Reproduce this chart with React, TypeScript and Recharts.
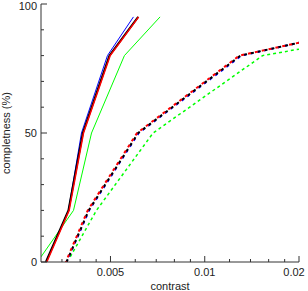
import React from "react";
import { LineChart, Line, XAxis, YAxis } from "recharts";

// completeness vs contrast, IDL-style box plot with inward ticks
const FONT = "'Liberation Sans', Arial, Helvetica, sans-serif";
const AXIS_COLOR = "#333";

const X_DOMAIN = [0.003, 0.02];
const Y_DOMAIN = [0, 100];

const X_MAJOR = [0.005, 0.01, 0.02];
const X_MAJOR_LABELS = ["0.005", "0.01", "0.02"];
const X_MINOR = [0.0035, 0.004, 0.0045, 0.006, 0.007, 0.008, 0.009, 0.012, 0.014, 0.016, 0.018];
const Y_MAJOR = [0, 50, 100];
const Y_MAJOR_LABELS = ["0", "50", "100"];
const Y_MINOR = [10, 20, 30, 40, 60, 70, 80, 90];

// solid curves
const SOLID_Y = [0, 20, 50, 80, 95];
const blueSolidX = [0.00311, 0.00367, 0.00404, 0.00489, 0.00592];
const blackSolidX = [0.00311, 0.00367, 0.00408, 0.00496, 0.00613];
const redSolidX = [0.00313, 0.00369, 0.0041, 0.00499, 0.00615];
const greenSolidX = [0.003, 0.00381, 0.00435, 0.00554, 0.0072];
const greenSolidY = [2, 20, 50, 80, 95];

// dashed curves
const DASHED_Y = [0, 20, 50, 80, 85];
const blueDashedX = [0.00362, 0.00427, 0.00615, 0.0131, 0.02];
const blackDashedX = [0.00362, 0.00426, 0.00613, 0.013, 0.02];
const redDashedX = [0.0036, 0.00423, 0.00608, 0.0129, 0.02];
const greenDashedX = [0.00372, 0.00451, 0.00684, 0.0153, 0.02];
const greenDashedY = [2, 20, 50, 80, 82.5];

const pts = (xs: number[], ys: number[]) => xs.map((x, i) => ({ x, y: ys[i] }));

const xTicks = [...X_MINOR, ...X_MAJOR].sort((a, b) => a - b);
const yTicks = [...Y_MINOR, ...Y_MAJOR].sort((a, b) => a - b);

function XTick(props: any) {
  const { x, y, payload, side } = props;
  const mi = X_MAJOR.indexOf(payload.value);
  const len = mi >= 0 ? 6 : 3;
  const dir = side === "bottom" ? -1 : 1;
  const last = mi === X_MAJOR.length - 1;
  return (
    <g>
      <line x1={x} y1={y} x2={x} y2={y + dir * len} stroke={AXIS_COLOR} strokeWidth={1} />
      {side === "bottom" && mi >= 0 && (
        <text x={x + (last ? -5 : 0)} y={y + 14} textAnchor="middle" fontSize={11} fontFamily={FONT} fill="#222">
          {X_MAJOR_LABELS[mi]}
        </text>
      )}
    </g>
  );
}

function YTick(props: any) {
  const { x, y, payload, side } = props;
  const mi = Y_MAJOR.indexOf(payload.value);
  const len = mi >= 0 ? 6 : 3;
  const dir = side === "left" ? 1 : -1;
  // keep the top label inside the picture
  const ty = Math.max(y + 4, 10);
  return (
    <g>
      <line x1={x} y1={y} x2={x + dir * len} y2={y} stroke={AXIS_COLOR} strokeWidth={1} />
      {side === "left" && mi >= 0 && (
        <text x={x - 4} y={ty} textAnchor="end" fontSize={11} fontFamily={FONT} fill="#222">
          {Y_MAJOR_LABELS[mi]}
        </text>
      )}
    </g>
  );
}

export default function App() {
  const axisLine = { stroke: AXIS_COLOR, strokeWidth: 1 };
  return (
    <div style={{ width: 308, height: 291 }}>
      <style>{"body{margin:0}"}</style>
      <LineChart width={308} height={291} margin={{ top: 4, right: 9, left: 0, bottom: 0 }}>
        <XAxis
          dataKey="x"
          type="number"
          scale="log"
          domain={X_DOMAIN}
          allowDataOverflow
          ticks={xTicks}
          interval={0}
          height={29}
          tickSize={0}
          tickMargin={0}
          axisLine={axisLine}
          tickLine={false}
          tick={(p: any) => <XTick {...p} side="bottom" />}
          label={{
            content: (lp: any) => {
              const vb = lp.viewBox;
              return (
                <text x={vb.x + vb.width / 2} y={vb.y + 28} textAnchor="middle" fontSize={11} fontFamily={FONT} fill="#222">
                  contrast
                </text>
              );
            },
          }}
        />
        <XAxis
          xAxisId="top"
          orientation="top"
          dataKey="x"
          type="number"
          scale="log"
          domain={X_DOMAIN}
          allowDataOverflow
          ticks={xTicks}
          interval={0}
          height={0}
          tickSize={0}
          tickMargin={0}
          axisLine={axisLine}
          tickLine={false}
          tick={(p: any) => <XTick {...p} side="top" />}
        />
        <YAxis
          type="number"
          domain={Y_DOMAIN}
          allowDataOverflow
          ticks={yTicks}
          interval={0}
          width={41}
          tickSize={0}
          tickMargin={0}
          axisLine={axisLine}
          tickLine={false}
          tick={(p: any) => <YTick {...p} side="left" />}
          label={{
            content: (lp: any) => {
              const vb = lp.viewBox;
              const cx = 10;
              const cy = vb.y + vb.height / 2;
              return (
                <text x={cx} y={cy} transform={`rotate(-90 ${cx} ${cy})`} textAnchor="middle" fontSize={11} fontFamily={FONT} fill="#222">
                  completness (%)
                </text>
              );
            },
          }}
        />
        <YAxis
          yAxisId="right"
          orientation="right"
          type="number"
          domain={Y_DOMAIN}
          allowDataOverflow
          ticks={yTicks}
          interval={0}
          width={0}
          tickSize={0}
          tickMargin={0}
          axisLine={axisLine}
          tickLine={false}
          tick={(p: any) => <YTick {...p} side="right" />}
        />

        <Line data={pts(greenSolidX, greenSolidY)} dataKey="y" stroke="#00ff00" strokeWidth={1} dot={false} activeDot={false} isAnimationActive={false} />
        <Line data={pts(blueSolidX, SOLID_Y)} dataKey="y" stroke="#0000ff" strokeWidth={1} dot={false} activeDot={false} isAnimationActive={false} />
        <Line data={pts(blackSolidX, SOLID_Y)} dataKey="y" stroke="#000000" strokeWidth={2} dot={false} activeDot={false} isAnimationActive={false} />
        <Line data={pts(redSolidX, SOLID_Y)} dataKey="y" stroke="#ff0000" strokeWidth={1.5} dot={false} activeDot={false} isAnimationActive={false} />

        <Line data={pts(greenDashedX, greenDashedY)} dataKey="y" stroke="#00ff00" strokeWidth={1.5} strokeDasharray="3 3" dot={false} activeDot={false} isAnimationActive={false} />
        <Line data={pts(blueDashedX, DASHED_Y)} dataKey="y" stroke="#0000ff" strokeWidth={2} strokeDasharray="3 4" strokeDashoffset={1} dot={false} activeDot={false} isAnimationActive={false} />
        <Line data={pts(blackDashedX, DASHED_Y)} dataKey="y" stroke="#000000" strokeWidth={2} strokeDasharray="3 4" dot={false} activeDot={false} isAnimationActive={false} />
        <Line data={pts(redDashedX, DASHED_Y)} dataKey="y" stroke="#ff0000" strokeWidth={2} strokeDasharray="3 4" strokeDashoffset={2} dot={false} activeDot={false} isAnimationActive={false} />
      </LineChart>
    </div>
  );
}
